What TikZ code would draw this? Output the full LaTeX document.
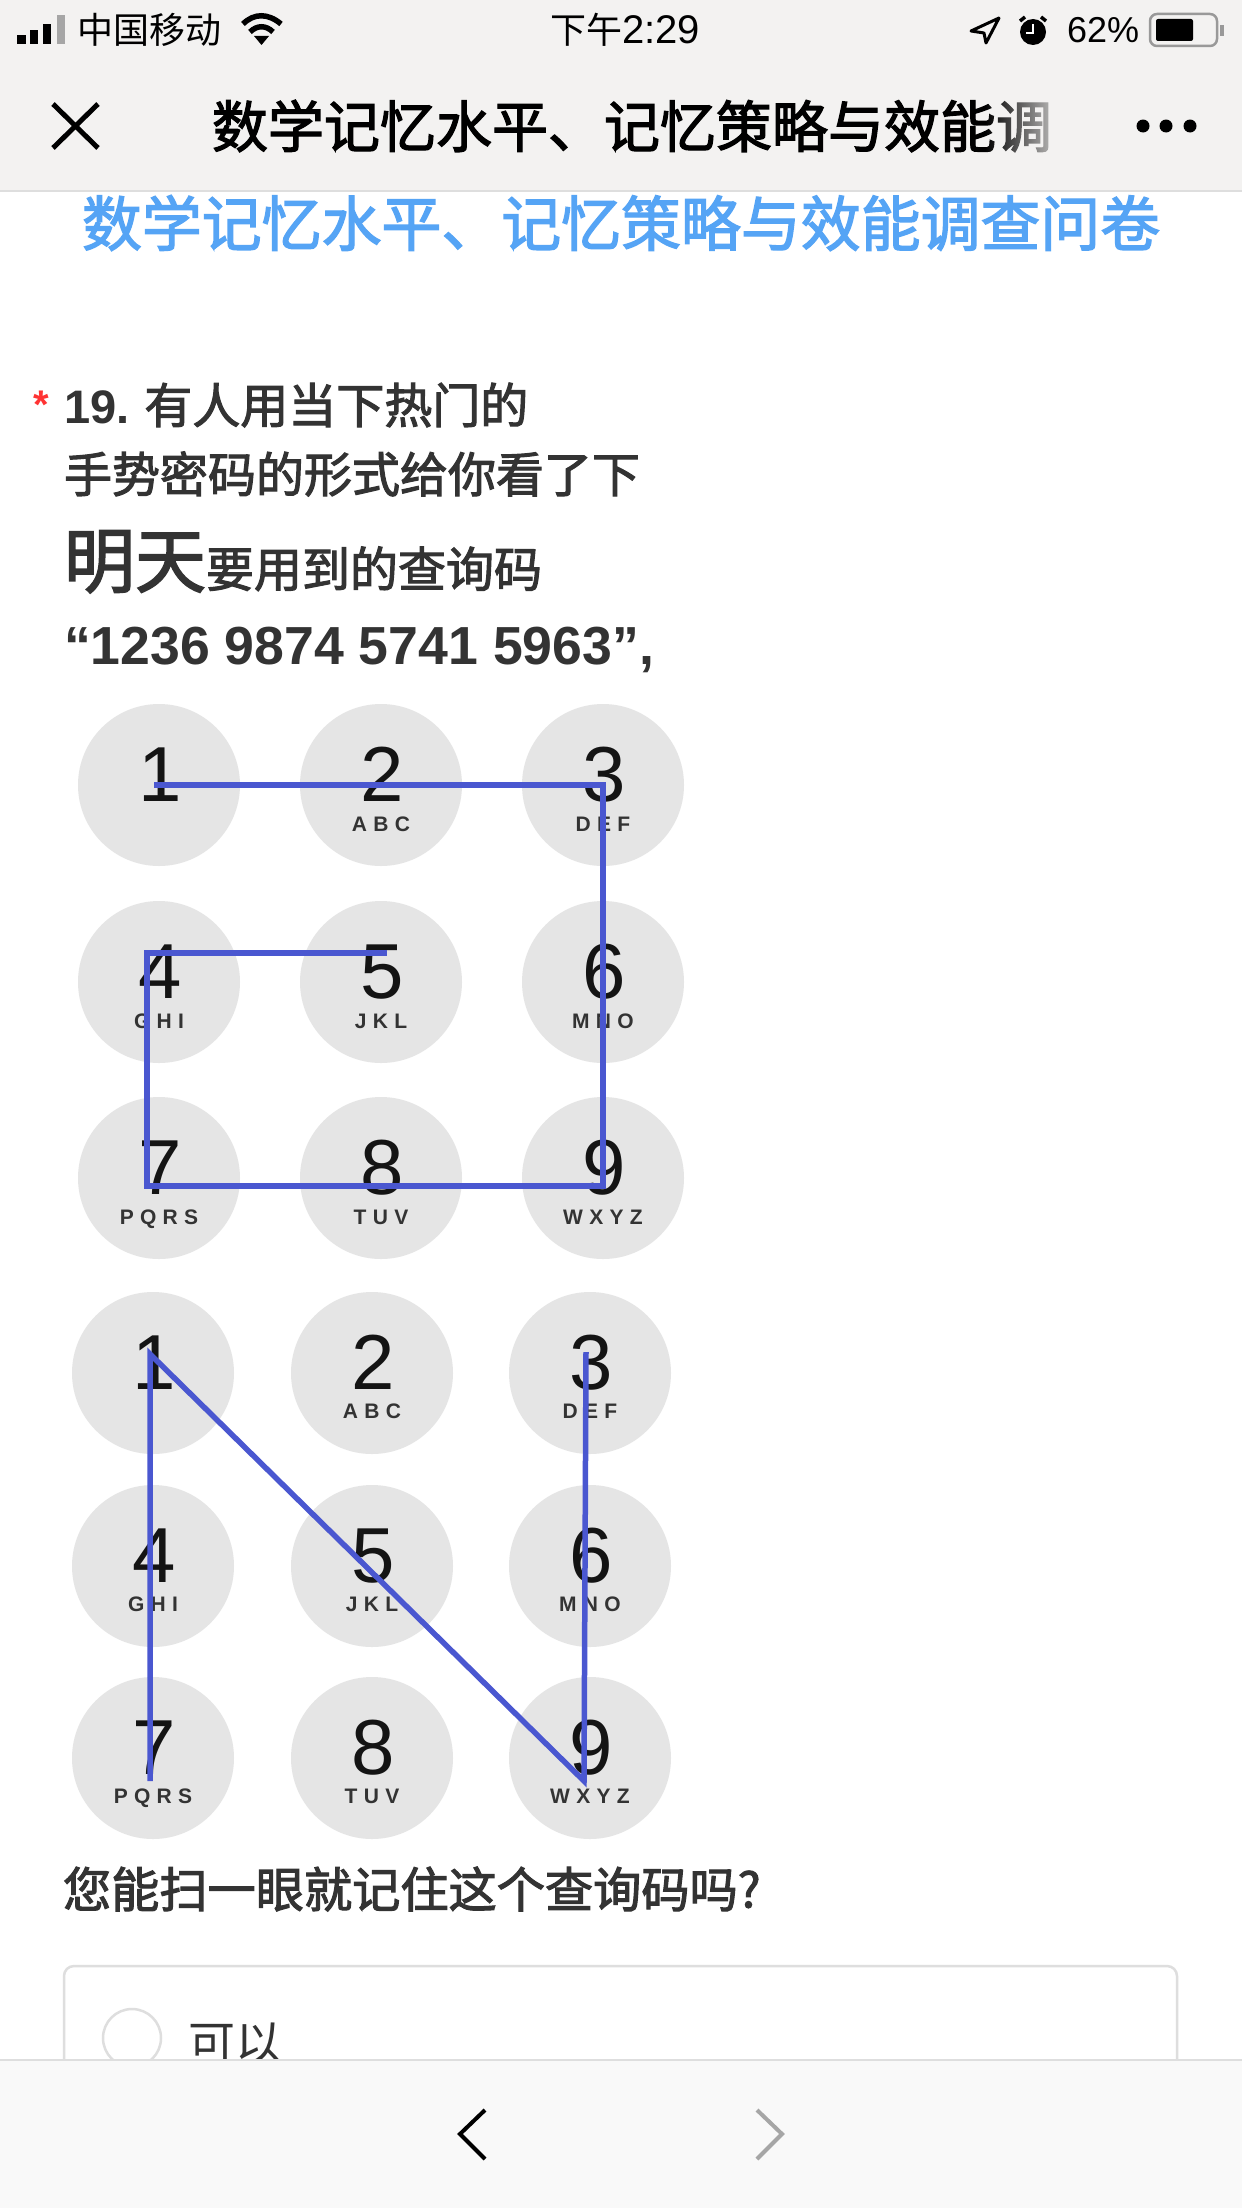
\documentclass[tikz,border=0pt]{standalone}
\usepackage{fontspec}
\usetikzlibrary{fadings}
\setmainfont{Liberation Sans}
\newfontfamily\cjk{Noto Sans CJK SC}
\newfontfamily\cjkm[FakeBold=2.2]{Noto Sans CJK SC}
\newfontfamily\keyfont[LetterSpace=30]{Liberation Sans}
\newcommand{\fs}[1]{\fontsize{#1}{#1}\selectfont}
\definecolor{barbg}{HTML}{F3F2F1}
\definecolor{botbg}{HTML}{F9F9F9}
\definecolor{rulec}{HTML}{DEDEDE}
\definecolor{titleblue}{HTML}{55A4F5}
\definecolor{keybg}{HTML}{E5E5E5}
\definecolor{stroke}{HTML}{4A57D0}
\definecolor{ink}{HTML}{333333}
\tikzset{
  txt/.style={inner sep=0pt,outer sep=0pt,anchor=west},
  keydisc/.style={circle,fill=keybg,draw=none,minimum size=162pt,inner sep=0pt},
  keydigit/.style={inner sep=0pt,anchor=base,text=black!92,font=\fs{78}},
  keyletters/.style={inner sep=0pt,anchor=base,text=black!80,font=\keyfont\bfseries\fs{21}},
  gesture/.style={draw=stroke,line width=5.5pt,line join=miter},
  chev/.style={line width=4pt,line join=miter}
}
\begin{document}
\begin{tikzpicture}[x=1pt,y=-1pt]
\useasboundingbox (0,0) rectangle (1242,2208);
\fill[white] (0,0) rectangle (1242,2208);
% top bars
\fill[barbg] (0,0) rectangle (1242,191);
\draw[rulec,line width=2pt] (0,191) -- (1242,191);
% status bar
\fill[black] (17,35) rectangle (26,44);
\fill[black] (30,30) rectangle (38,44);
\fill[black] (43,24) rectangle (51,44);
\fill[black!35] (57,15) rectangle (65,44);
\node[txt] (carrier) at (77,30) {\cjk\fs{36}中国移动};
\draw[black,line width=5.5pt] (243,24) .. controls (254,13) and (268,13) .. (281,24);
\draw[black,line width=5.5pt] (250,32) .. controls (257,25) and (266,25) .. (273,32);
\fill[black] (254,36) -- (269,36) -- (261.5,45) -- cycle;
\node[txt] (clock) at (550,30) {\cjk\fs{36}下午\fs{40}\rmfamily 2:29};
\draw[black,line width=3pt,line join=round] (999,18) -- (971,31) -- (984,33) -- (986,43) -- cycle;
\fill[black] (1033,32) circle (13pt);
\draw[black,line width=3.5pt] (1020,21) -- (1025,17) (1041,17) -- (1046,21);
\draw[white,line width=2.5pt] (1033,24) -- (1033,33) -- (1026,33);
\node[txt] (battxt) at (1067,30) {\fs{36}62\%};
\draw[black!40,line width=2.5pt,rounded corners=7pt] (1150,14) rectangle (1217,46);
\fill[black,rounded corners=2pt] (1156,19) rectangle (1193,41);
\fill[black!40] (1220,25) rectangle (1224,36);
% nav row
\draw[black,line width=5pt] (53,104) -- (98,148) (98,104) -- (53,148);
\node[txt] (navtitle) at (212,126) {\cjkm\fs{56}数学记忆水平、记忆策略与效能调};
\fill[barbg,path fading=west] (985,90) rectangle (1075,165);
\fill[black] (1143,126) circle (6.5pt) (1166,126) circle (6.5pt) (1190,126) circle (6.5pt);
\node[txt,text=titleblue] (pagetitle) at (82,223) {\cjkm\fs{59.9}数学记忆水平、记忆策略与效能调查问卷};
% question
\node[txt,text=red!80!white] (star) at (33,405) {\bfseries\fs{40}*};
\node[txt,text=ink] (q1) at (64,405) {\bfseries\fs{47}19.\hspace{15pt}\mdseries\cjkm\fs{48}有人用当下热门的};
\node[txt,text=ink] (q2) at (64,474) {\cjkm\fs{48}手势密码的形式给你看了下};
\node[txt,text=ink,anchor=base west] (q3) at (64,587) {\cjkm\fs{71}明天\fs{48}要用到的查询码};
\node[txt,text=ink] (q4) at (64,650) {\bfseries\fs{53.6}“1236 9874 5741 5963”,};
% keypad A
\foreach \n/\cx/\cy/\l in {1/159/785/{},2/381/785/ABC,3/603/785/DEF,4/159/982/GHI,5/381/982/JKL,6/603/982/MNO,7/159/1178/PQRS,8/381/1178/TUV,9/603/1178/WXYZ}{
  \node[keydisc] (a\n) at (\cx,\cy) {};
  \node[keydigit] (ad\n) at (\cx+1,\cy+16) {\n};
  \node[keyletters] (al\n) at (\cx,\cy+46) {\l};
}
\coordinate (p1) at (154,785);
\coordinate (p2) at (603,785);
\coordinate (p3) at (603,1186);
\coordinate (p4) at (147,1186);
\coordinate (p5) at (147,953);
\coordinate (p6) at (387,953);
\draw[gesture] (p1) -- (p2) -- (p3) -- (p4) -- (p5) -- (p6);
% keypad B
\foreach \n/\cx/\cy/\l in {1/153/1373/{},2/372/1373/ABC,3/590/1373/DEF,4/153/1566/GHI,5/372/1566/JKL,6/590/1566/MNO,7/153/1758/PQRS,8/372/1758/TUV,9/590/1758/WXYZ}{
  \node[keydisc] (b\n) at (\cx,\cy) {};
  \node[keydigit] (bd\n) at (\cx+1,\cy+16) {\n};
  \node[keyletters] (bl\n) at (\cx,\cy+45) {\l};
}
\coordinate (r1) at (150,1781);
\coordinate (r2) at (150,1354);
\coordinate (r3) at (584,1781);
\coordinate (r4) at (586,1352);
\draw[gesture] (r1) -- (r2) -- (r3) -- (r4);
% answer
\node[txt,text=ink] (ask) at (63,1889) {\cjkm\fs{48.2}您能扫一眼就记住这个查询码吗?};
\draw[rulec,line width=2.5pt,rounded corners=10pt] (64,2100) -- (64,1966) -- (1177,1966) -- (1177,2100);
\node[circle,draw=rulec,line width=2.5pt,fill=white,minimum size=58pt,inner sep=0pt] (radio) at (132,2038) {};
\node[txt,text=ink] (opt) at (188,2044) {\cjk\fs{47}可以};
% bottom bar
\fill[botbg] (0,2060) rectangle (1242,2208);
\draw[rulec,line width=2pt] (0,2060) -- (1242,2060);
\draw[chev,black] (485,2110) -- (460,2134) -- (485,2159);
\draw[chev,black!35] (757,2110) -- (782,2134) -- (757,2159);
\end{tikzpicture}
\end{document}
